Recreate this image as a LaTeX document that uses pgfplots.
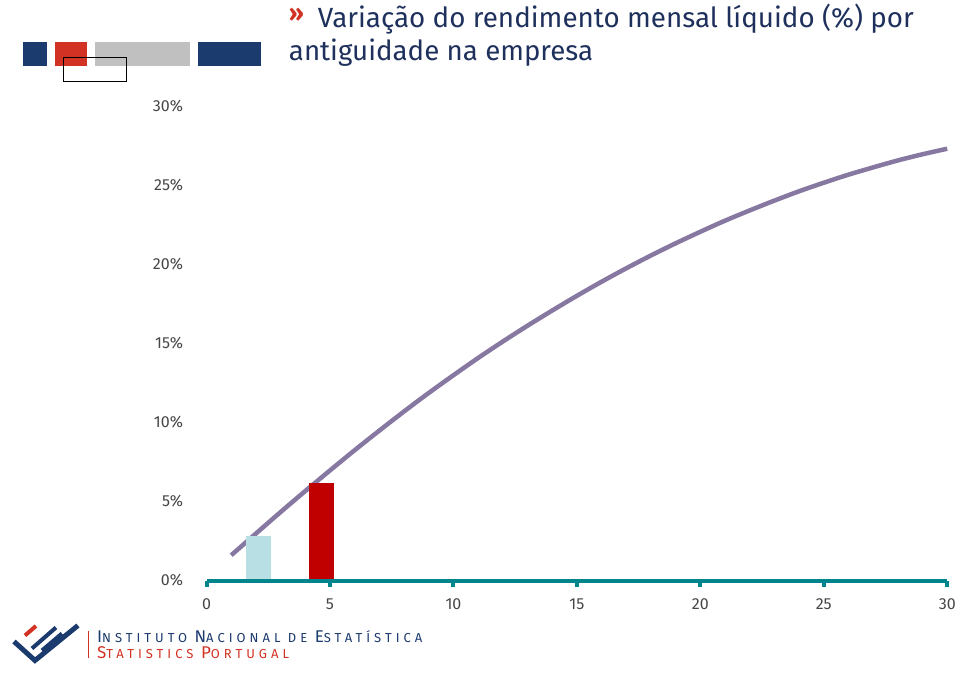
\documentclass[border=0pt]{standalone}
\usepackage{pgfplots}
\pgfplotsset{compat=1.18}
\usepackage{fontspec}
\setmainfont{Fira Sans}

\definecolor{inenavy}{RGB}{27,58,110}
\definecolor{inered}{RGB}{210,50,35}
\definecolor{inegrey}{RGB}{192,192,192}
\definecolor{titleblue}{RGB}{30,48,92}
\definecolor{ineteal}{RGB}{0,133,140}
\definecolor{curvecol}{RGB}{135,120,162}
\definecolor{lightbar}{RGB}{184,223,228}
\definecolor{barred}{RGB}{192,0,0}
\definecolor{ticklabelgray}{RGB}{70,70,70}

\begin{document}
\begin{tikzpicture}
\begin{scope}[x=1pt,y=-1pt]
\path[use as bounding box] (0,0) rectangle (959,673);
% header blocks
\fill[inenavy] (23.3,42.3) rectangle (47.3,65.7);
\fill[inered] (55,42.3) rectangle (87.3,65.7);
\fill[inegrey] (95,42.3) rectangle (190,65.7);
\fill[inenavy] (197.7,42.3) rectangle (261.7,65.7);
\draw[black, line width=1] (63.3,57.7) rectangle (127,82);
% title
\node[anchor=base west, inner sep=0, text=inered, font=\fontsize{24}{24}\selectfont\bfseries] at (289,22) {»};
\node[anchor=base west, inner sep=0, text=titleblue, font=\fontsize{27.8}{27.8}\selectfont] at (318,28) {Variação do rendimento mensal líquido (\%) por};
\node[anchor=base west, inner sep=0, text=titleblue, font=\fontsize{27.7}{27.7}\selectfont] at (289,61) {antiguidade na empresa};
% logo
\draw[inenavy, line width=5, miter limit=10] (14,642) -- (35,661) -- (78,626);
\draw[inered, line width=4] (25,636) -- (36,626.5);
\draw[inenavy, line width=4] (32,649) -- (56,628);
\draw[inenavy, line width=4] (42,651) -- (62,634);
\draw[inered, line width=1.2] (88.3,632) -- (88.3,659);
\node[anchor=base west, inner sep=0, text=inenavy, font=\addfontfeature{LetterSpace=31}] at (97,643)
  {{\fontsize{17}{17}\selectfont I}{\fontsize{13}{13}\selectfont NSTITUTO }{\fontsize{17}{17}\selectfont N}{\fontsize{13}{13}\selectfont ACIONAL DE }{\fontsize{17}{17}\selectfont E}{\fontsize{13}{13}\selectfont STATÍSTICA}};
\node[anchor=base west, inner sep=0, text=inered, font=\addfontfeature{LetterSpace=31}] at (97,659)
  {{\fontsize{17}{17}\selectfont S}{\fontsize{13}{13}\selectfont TATISTICS }{\fontsize{17}{17}\selectfont P}{\fontsize{13}{13}\selectfont ORTUGAL}};
\end{scope}

\begin{axis}[
    at={(206.7pt,-581pt)}, anchor=south west,
    x=24.71pt, y=15.83pt,
    xmin=0, xmax=30, ymin=0, ymax=30,
    axis x line=bottom, axis y line=left,
    x axis line style={draw=ineteal, line width=4pt, -},
    y axis line style={draw=none},
    xtick={0,5,...,30}, ytick={0,5,...,30},
    tick align=outside,
    major tick length=6pt,
    xtick style={draw=ineteal, line width=4pt},
    ytick style={draw=none},
    ticklabel style={font=\fontsize{16}{16}\selectfont, text=ticklabelgray},
    /pgf/number format/assume math mode=true,
    yticklabel={\pgfmathprintnumber{\tick}\%},
    yticklabel style={xshift=-14pt},
    xticklabel style={yshift=-9pt},
    axis on top,
    clip=false,
]
\addplot[curvecol, line width=4.5pt, smooth] coordinates {
  (1,1.6) (2,2.97) (3,4.33) (4,5.66) (5,6.96) (6,8.24) (7,9.48) (8,10.69)
  (9,11.86) (10,12.98) (11,14.07) (12,15.11) (13,16.11) (14,17.07) (15,18.0)
  (16,18.89) (17,19.74) (18,20.55) (19,21.32) (20,22.05) (21,22.75) (22,23.4)
  (23,24.02) (24,24.61) (25,25.15) (26,25.66) (27,26.12) (28,26.56) (29,26.95) (30,27.3)
};
\addplot[ybar, bar width=1.03, bar shift=0pt, fill=lightbar, draw=none] coordinates {(2.11,2.82)};
\addplot[ybar, bar width=1.02, bar shift=0pt, fill=barred, draw=none] coordinates {(4.65,6.17)};
\end{axis}
\end{tikzpicture}
\end{document}
